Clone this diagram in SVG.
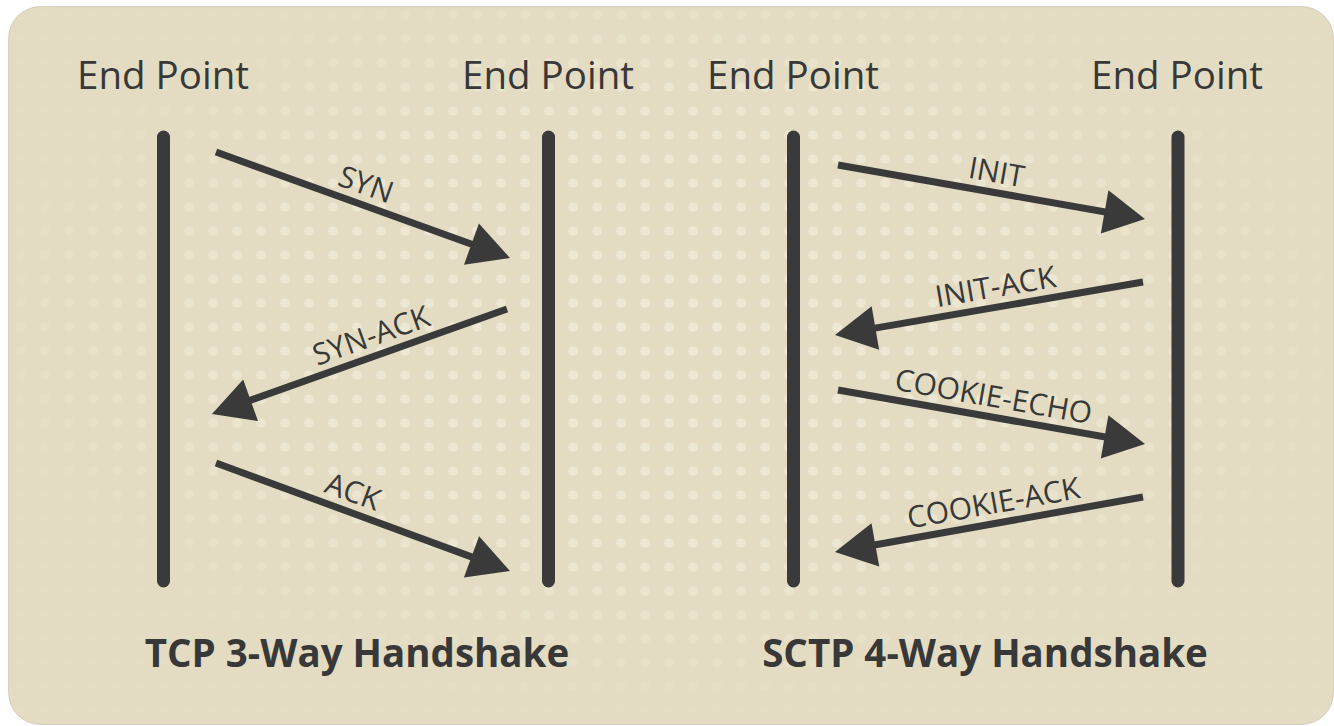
<svg xmlns="http://www.w3.org/2000/svg" width="1334" height="726" viewBox="0 0 1334 726">
  <defs>
    <style>
      .head { font-family: "Open Sans", "Noto Sans", "DejaVu Sans", sans-serif; font-size: 38.5px; fill: #383838; text-anchor: middle; }
      .title { font-family: "Open Sans", "Noto Sans", "DejaVu Sans", sans-serif; font-size: 38.5px; font-weight: bold; fill: #383838; text-anchor: middle; }
      .msg { font-family: "Open Sans", "Noto Sans", "DejaVu Sans", sans-serif; font-size: 30px; fill: #383838; text-anchor: middle; }
      .life { stroke: #3a3a3a; stroke-width: 13; stroke-linecap: round; fill: none; }
      .arrow { stroke: #3a3a3a; stroke-width: 7; fill: none; marker-end: url(#head); }
    </style>
    <marker id="head" markerUnits="userSpaceOnUse" orient="auto" refX="0" refY="0" markerWidth="70" markerHeight="50" overflow="visible">
      <path d="M-21,-22 L20,0 L-21,22 Z" fill="#3a3a3a"/>
    </marker>
    <pattern id="dots" patternUnits="userSpaceOnUse" x="9" y="3" width="24" height="24">
      <circle cx="12" cy="12" r="4.8" fill="#eee9d5"/>
    </pattern>
    <radialGradient id="fade" cx="667" cy="330" r="700" gradientUnits="userSpaceOnUse" gradientTransform="translate(667 330) scale(1 0.55) translate(-667 -330)">
      <stop offset="0" stop-color="#fff" stop-opacity="1"/>
      <stop offset="0.6" stop-color="#fff" stop-opacity="0.8"/>
      <stop offset="1" stop-color="#fff" stop-opacity="0.1"/>
    </radialGradient>
    <mask id="dotmask" maskUnits="userSpaceOnUse" x="0" y="0" width="1334" height="726">
      <rect x="0" y="0" width="1334" height="726" fill="url(#fade)"/>
    </mask>
  </defs>

  <!-- panel -->
  <rect x="0" y="0" width="1334" height="726" fill="#ffffff"/>
  <rect x="8.5" y="6.5" width="1325" height="718" rx="32" fill="#e3dcc2" stroke="#b9b4a4" stroke-width="1" stroke-opacity="0.5"/>
  <rect x="9" y="7" width="1324" height="717" rx="31" fill="url(#dots)" mask="url(#dotmask)"/>

  <!-- end points -->
  <g id="tcp-left">
    <text class="head" x="163" y="89">End Point</text>
    <line class="life" x1="163.5" y1="137" x2="163.5" y2="581"/>
  </g>
  <g id="tcp-right">
    <text class="head" x="548" y="89">End Point</text>
    <line class="life" x1="548.5" y1="137" x2="548.5" y2="581"/>
  </g>
  <g id="sctp-left">
    <text class="head" x="793" y="89">End Point</text>
    <line class="life" x1="793.5" y1="137" x2="793.5" y2="581"/>
  </g>
  <g id="sctp-right">
    <text class="head" x="1177" y="89">End Point</text>
    <line class="life" x1="1178" y1="137" x2="1178" y2="581"/>
  </g>

  <!-- messages -->
  <g id="connectors">
    <path class="arrow" d="M216,152 L491.2,251.2"/>
    <path class="arrow" d="M507,309 L230.8,407.3"/>
    <path class="arrow" d="M216,463 L491.2,564.1"/>
    <path class="arrow" d="M838,165 L1125.3,215.5"/>
    <path class="arrow" d="M1143,282 L854.7,331.6"/>
    <path class="arrow" d="M838,390 L1125.3,440.5"/>
    <path class="arrow" d="M1143,497 L854.7,548.5"/>
  </g>

  <g id="labels">
    <text class="msg" transform="translate(359 203.6) rotate(19.83)" y="-10">SYN</text>
    <text class="msg" transform="translate(378 354.9) rotate(-19.59)" y="-10">SYN-ACK</text>
    <text class="msg" transform="translate(346 510.8) rotate(20.17)" y="-10">ACK</text>
    <text class="msg" transform="translate(993 192.3) rotate(9.98)" y="-10">INIT</text>
    <text class="msg" transform="translate(999 306.8) rotate(-9.76)" y="-10">INIT-ACK</text>
    <text class="msg" transform="translate(990 416.7) rotate(9.98)" y="-10">COOKIE-ECHO</text>
    <text class="msg" transform="translate(997 523.1) rotate(-10.12)" y="-10">COOKIE-ACK</text>
  </g>

  <!-- captions -->
  <g id="tcp-title">
    <text class="title" x="357" y="667">TCP 3-Way Handshake</text>
  </g>
  <g id="sctp-title">
    <text class="title" x="985" y="667">SCTP 4-Way Handshake</text>
  </g>
</svg>
